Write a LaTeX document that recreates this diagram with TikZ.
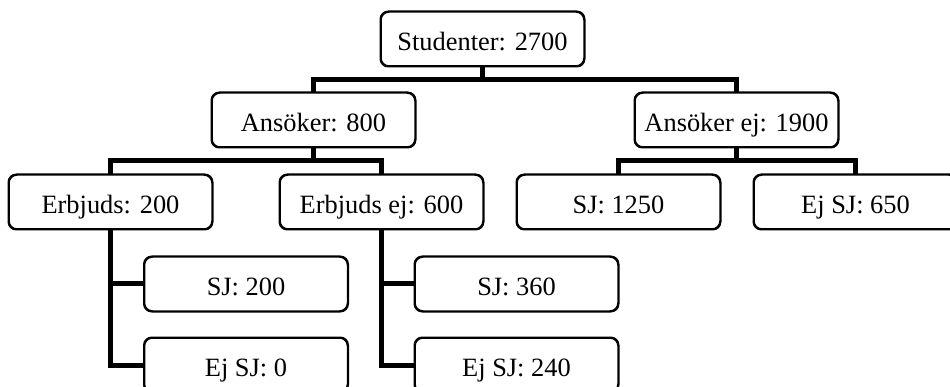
\documentclass[tikz,border=0pt]{standalone}
\usepackage{fontspec}
\setmainfont{Liberation Serif}
\usetikzlibrary{calc}
\begin{document}
\begin{tikzpicture}[x=1pt,y=-1pt,
  box/.style={draw=black,line width=1.5pt,rounded corners=8pt,fill=white,
    minimum width=203pt,minimum height=54pt,inner sep=0pt,
    text height=23pt,text depth=0pt,
    font=\fontsize{26.4}{30}\selectfont},
  frame/.style={draw=black,line width=1.5pt,rounded corners=8pt},
  conn/.style={draw=black,line width=5pt,line join=miter}]
\clip (0,0) rectangle (950,387);
\fill[white] (0,0) rectangle (950,387);
\node[box] (root) at (482.5,39) {Studenter: 2700};
\node[box] (a1) at (313.5,120) {Ansöker: 800};
\node[box] (a2) at (736.5,120) {Ansöker ej: 1900};
\node[box] (e1) at (110.5,202) {Erbjuds: 200};
\node[box] (e2) at (381.5,202) {Erbjuds ej: 600};
\node[box] (s1) at (618.5,202) {SJ: 1250};
\node[box] (s2) at (855.5,202) {Ej SJ: 650};
\node[box] (f1) at (246,284) {SJ: 200};
\node[box] (f2) at (246,365) {Ej SJ: 0};
\node[box] (g1) at (516.5,284) {SJ: 360};
\node[box] (g2) at (516.5,365) {Ej SJ: 240};
\path[conn] (root.south) -- ($(root.south)!.5!(root.south |- a1.north)$) coordinate (b0) -| (a1.north);
\path[conn] (b0) -| (a2.north);
\path[conn] (a1.south) -- ($(a1.south)!.5!(a1.south |- e1.north)$) coordinate (b1) -| (e1.north);
\path[conn] (b1) -| (e2.north);
\path[conn] (a2.south) -- ($(a2.south)!.5!(a2.south |- s1.north)$) coordinate (b2) -| (s1.north);
\path[conn] (b2) -| (s2.north);
\path[conn] (e1.south) |- (f1.west);
\path[conn] (e1.south) |- (f2.west);
\path[conn] (e2.south) |- (g1.west);
\path[conn] (e2.south) |- (g2.west);
\foreach \n in {root,a1,a2,e1,e2,s1,s2,f1,f2,g1,g2}{
  \path[frame] (\n.south west) rectangle (\n.north east);
}
\end{tikzpicture}
\end{document}
